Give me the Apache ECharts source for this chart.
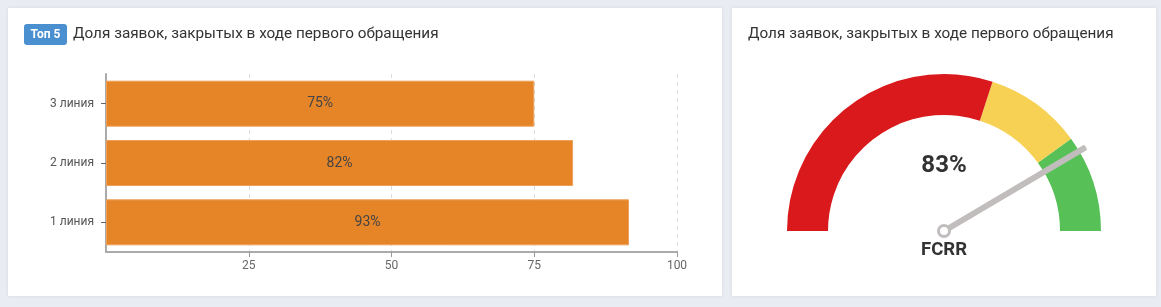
<!DOCTYPE html>
<html><head><meta charset="utf-8">
<script src="https://cdn.jsdelivr.net/npm/echarts@6/dist/echarts.min.js"></script>
<style>
html,body{margin:0;padding:0;background:#e9edf3;}
#c{width:1161px;height:307px;}
</style></head>
<body><div id="c"></div>
<script>
const categories = ['1 линия', '2 линия', '3 линия'];
const barValues = [91.6, 81.8, 75];
const barLabels = ['93%', '82%', '75%'];
const xTicks = [0, 25, 50, 75, 100];
const gaugeValue = 83;
const gaugeLabel = 'FCRR';
const gaugeBands = [[0.6, '#d9191c'], [0.8, '#f7d154'], [1, '#57c157']];
const titleText = 'Доля заявок, закрытых в ходе первого обращения';

const FONT = 'Roboto, "Noto Sans", sans-serif';
const chart = echarts.init(document.getElementById('c'), null, {renderer: 'canvas'});
chart.setOption({
  backgroundColor: '#e9edf3',
  textStyle: {fontFamily: FONT},
  graphic: [
    {type: 'rect', shape: {x: 8, y: 8, width: 714, height: 288}, style: {fill: '#fff', shadowBlur: 4, shadowColor: 'rgba(0,0,0,0.08)'}, z: -10},
    {type: 'rect', shape: {x: 732, y: 8, width: 424, height: 288}, style: {fill: '#fff', shadowBlur: 4, shadowColor: 'rgba(0,0,0,0.08)'}, z: -10},
    {type: 'rect', shape: {x: 24, y: 24, width: 43, height: 21, r: 3}, style: {fill: '#4a8fd0'}},
    {type: 'text', x: 45.5, y: 34.5, style: {text: 'Топ 5', fill: '#fff', font: 'bold 12px ' + FONT, textAlign: 'center', textVerticalAlign: 'middle'}},
    {type: 'text', x: 73, y: 34.5, style: {text: titleText, fill: '#333', font: '15.3px ' + FONT, textVerticalAlign: 'middle'}},
    {type: 'text', x: 748, y: 34.5, style: {text: titleText, fill: '#333', font: '15.3px ' + FONT, textVerticalAlign: 'middle'}}
  ],
  grid: {left: 106, right: 484, top: 74, bottom: 55, containLabel: false},
  xAxis: {
    type: 'value', min: xTicks[0], max: xTicks[xTicks.length - 1], interval: 25,
    axisLine: {show: true, lineStyle: {color: '#aaa', width: 2}},
    axisTick: {show: true, length: 5, lineStyle: {color: '#999'}},
    axisLabel: {color: '#666', fontSize: 12, showMinLabel: false, margin: 8},
    splitLine: {show: true, lineStyle: {type: [4, 4], color: '#ddd'}}
  },
  yAxis: {
    type: 'category', data: categories,
    axisLine: {show: true, lineStyle: {color: '#aaa', width: 2}},
    axisTick: {show: true, alignWithLabel: true, length: 5, lineStyle: {color: '#666'}},
    axisLabel: {color: '#555', fontSize: 12, margin: 12}
  },
  series: [
    {
      type: 'bar', data: barValues, barWidth: 46,
      itemStyle: {color: '#e68528', borderColor: '#eea05a', borderWidth: 1},
      label: {show: true, position: 'inside', color: '#444', fontSize: 14,
        formatter: p => barLabels[p.dataIndex]}
    },
    {
      type: 'gauge', center: [944, 231], radius: 157,
      startAngle: 180, endAngle: 0, min: 0, max: 100,
      axisLine: {lineStyle: {width: 41, color: gaugeBands}},
      axisTick: {show: false}, splitLine: {show: false}, axisLabel: {show: false},
      pointer: {show: true, icon: 'roundRect', length: '105%', width: 6, itemStyle: {color: '#c1bdbd'}},
      anchor: {show: true, size: 11, showAbove: true, itemStyle: {color: '#fff', borderColor: '#c1bdbd', borderWidth: 3}},
      title: {show: true, offsetCenter: [0, 19], color: '#333', fontSize: 18.5, fontWeight: 'bold'},
      detail: {show: true, offsetCenter: [0, -65], color: '#333', fontSize: 24, fontWeight: 'bold', formatter: '{value}%'},
      data: [{value: gaugeValue, name: gaugeLabel}]
    }
  ]
});
</script></body></html>
